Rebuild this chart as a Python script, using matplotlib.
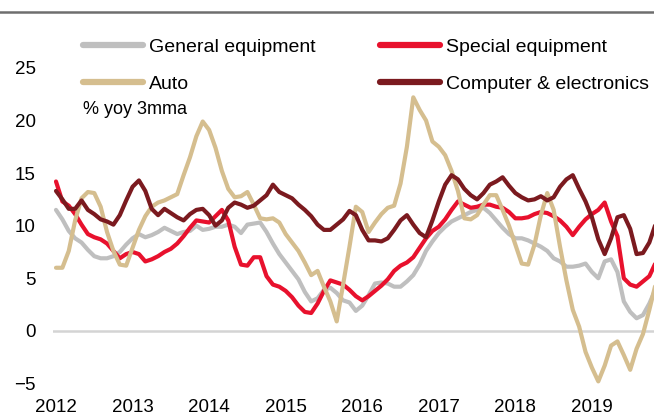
import numpy as np
import matplotlib.pyplot as plt
from matplotlib.lines import Line2D

plt.rcParams['font.family'] = ['Liberation Sans', 'DejaVu Sans']

# monthly readings, Jan 2012 .. Nov 2019 (% yoy, 3mma)
years = ['2012', '2013', '2014', '2015', '2016', '2017', '2018', '2019']

general_equipment = [
    11.5, 10.6, 9.5, 8.8, 8.4, 7.7, 7.1, 6.9, 6.9, 7.1, 7.5, 8.2,
    8.8, 9.2, 8.9, 9.1, 9.4, 9.8, 9.5, 9.2, 9.4, 9.5, 10.0, 9.6,
    9.7, 9.9, 9.9, 10.1, 9.9, 9.3, 10.1, 10.2, 10.3, 9.4, 8.3, 7.3,
    6.5, 5.7, 4.9, 3.7, 2.8, 3.1, 3.9, 4.1, 3.6, 2.9, 2.7, 1.9,
    2.4, 3.4, 4.5, 4.6, 4.5, 4.2, 4.2, 4.7, 5.3, 6.3, 7.6, 8.5,
    9.3, 9.9, 10.4, 10.7, 11.0, 11.3, 11.5, 11.7, 11.2, 10.5, 9.8, 9.2,
    8.8, 8.8, 8.6, 8.3, 8.0, 7.6, 6.9, 6.6, 6.1, 6.1, 6.2, 6.4,
    5.6, 5.0, 6.6, 6.8, 5.6, 2.8, 1.8, 1.2, 1.5, 2.6, 4.0,
]

special_equipment = [
    14.2, 12.3, 11.9, 11.1, 10.1, 9.2, 8.9, 8.7, 8.3, 7.6, 6.9, 7.3,
    7.5, 7.3, 6.6, 6.8, 7.1, 7.5, 7.8, 8.3, 9.0, 9.8, 10.5, 10.4,
    10.3, 10.9, 11.5, 10.5, 8.0, 6.3, 6.2, 7.0, 7.0, 5.2, 4.4, 4.2,
    3.8, 3.2, 2.4, 1.8, 1.7, 2.6, 3.8, 4.8, 4.6, 4.4, 3.9, 3.3,
    2.9, 3.3, 3.8, 4.3, 4.9, 5.7, 6.2, 6.5, 7.0, 7.9, 8.8, 9.5,
    9.9, 10.6, 11.5, 12.3, 12.0, 11.7, 11.8, 12.0, 12.0, 11.8, 11.7, 11.3,
    10.7, 10.7, 10.8, 11.1, 11.3, 11.2, 10.9, 10.5, 9.9, 9.1, 9.9, 10.6,
    11.1, 11.5, 12.2, 10.4, 9.0, 5.0, 4.4, 4.2, 4.7, 5.2, 6.5,
]

auto = [
    6.0, 6.0, 7.6, 10.5, 12.6, 13.2, 13.1, 11.8, 9.4, 7.6, 6.3, 6.2,
    7.9, 9.6, 10.9, 11.8, 12.2, 12.4, 12.7, 13.0, 14.8, 16.5, 18.5, 19.9,
    19.1, 17.4, 15.2, 13.5, 12.7, 12.8, 13.2, 12.0, 10.7, 10.6, 10.7, 10.3,
    9.2, 8.4, 7.6, 6.5, 5.3, 5.7, 4.2, 2.8, 0.9, 4.4, 8.0, 11.8,
    11.3, 9.4, 10.3, 11.1, 11.7, 11.9, 14.0, 17.5, 22.2, 21.0, 20.0, 18.0,
    17.5, 16.7, 15.2, 13.3, 10.7, 10.6, 11.0, 12.0, 12.9, 12.9, 11.5, 10.0,
    8.2, 6.4, 6.3, 8.2, 11.0, 13.1, 11.5, 8.0, 4.8, 2.0, 0.4, -2.0,
    -3.5, -4.8, -3.3, -1.4, -1.0, -2.3, -3.7, -1.7, -0.3, 2.0, 4.5,
]

computer_electronics = [
    13.3, 12.5, 11.6, 11.6, 12.4, 11.5, 11.1, 10.6, 10.4, 10.1, 11.0, 12.4,
    13.7, 14.3, 13.3, 11.6, 11.0, 11.6, 11.2, 10.8, 10.5, 11.1, 11.5, 11.6,
    11.0, 10.0, 10.5, 11.7, 12.2, 12.0, 11.7, 11.9, 12.4, 12.9, 13.9, 13.2,
    12.9, 12.6, 12.0, 11.5, 10.9, 10.1, 9.6, 9.6, 10.1, 10.6, 11.4, 11.0,
    9.6, 8.6, 8.6, 8.5, 8.8, 9.6, 10.5, 11.0, 10.1, 9.3, 8.9, 10.5,
    12.3, 13.9, 14.8, 14.4, 13.5, 12.9, 12.5, 13.1, 13.9, 14.2, 14.6, 13.8,
    13.1, 12.7, 12.4, 12.5, 12.8, 12.4, 12.7, 13.7, 14.4, 14.8, 13.5, 12.3,
    10.8, 8.7, 7.3, 8.8, 10.8, 11.0, 9.7, 7.3, 7.4, 8.4, 10.2,
]

GRAY = '#bfbfbf'
RED = '#e8112d'
TAN = '#d5be8f'
DARK = '#7b1a1f'

months = np.arange(len(general_equipment))

fig = plt.figure(figsize=(6.54, 4.17), dpi=100)
ax = fig.add_axes([53 / 654, 23 / 417, 601 / 654, 364 / 417])

ax.axhline(0, color='#d4d4d4', lw=1.8, zorder=1)

kw = dict(lw=3.0, solid_joinstyle='round', solid_capstyle='round', zorder=2)
l_gen, = ax.plot(months, general_equipment, color=GRAY, label='General equipment', **kw)
l_spec, = ax.plot(months, special_equipment, color=RED, label='Special equipment', **kw)
l_auto, = ax.plot(months, auto, color=TAN, label='Auto', **kw)
l_comp, = ax.plot(months, computer_electronics, color=DARK, label='Computer & electronics', **kw)

ax.set_xlim(-0.47, 93.73)
ax.set_ylim(-6.0, 28.6)
ax.set_yticks([-5, 0, 5, 10, 15, 20, 25])
ax.set_xticks(np.arange(0, 96, 12))
ax.set_xticklabels(years)
ax.tick_params(axis='both', length=0, labelsize=13.5, colors='black')
ax.tick_params(axis='y', pad=12.5)
ax.tick_params(axis='x', pad=3.5)
for s in ax.spines.values():
    s.set_visible(False)

# two-column legend built as two single-column legends
leg_kw = dict(frameon=False, fontsize=14, handlelength=3.1, handletextpad=0.28,
              labelspacing=0.97, borderaxespad=0, borderpad=0, loc='upper left')
leg1 = ax.legend([l_gen, l_auto], ['General equipment', 'Auto'],
                 bbox_to_anchor=(83 / 654, 1 - 38.5 / 417), bbox_transform=fig.transFigure, **leg_kw)
for ln in leg1.get_lines():
    ln.set_linewidth(4.5)
ax.add_artist(leg1)
leg2 = ax.legend([l_spec, l_comp], ['Special equipment', 'Computer & electronics'],
                 bbox_to_anchor=(380 / 654, 1 - 38.5 / 417), bbox_transform=fig.transFigure, **leg_kw)
for ln in leg2.get_lines():
    ln.set_linewidth(4.5)

fig.text(83 / 654, 1 - 110 / 417, '% yoy 3mma', fontsize=13, va='center', ha='left')

# rule across the top of the chart
fig.add_artist(Line2D([0, 1], [1 - 12 / 417, 1 - 12 / 417], color='#6e6e6e', lw=1.8))

fig.savefig('out.png', dpi=100)
